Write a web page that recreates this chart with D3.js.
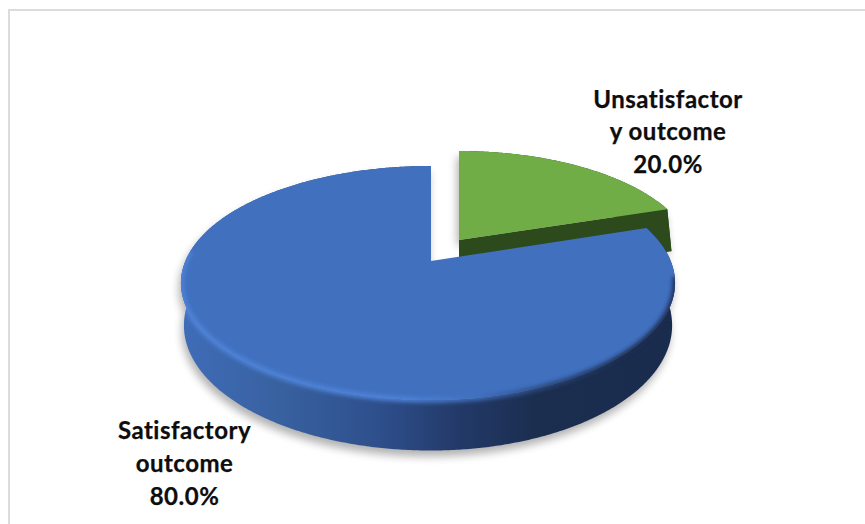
<!DOCTYPE html>
<html>
<head>
<meta charset="utf-8">
<style>
  html, body { margin: 0; padding: 0; background: #fff; }
  svg { display: block; }
  text { font-family: Lato, "Open Sans", sans-serif; font-weight: 700; fill: #0d0d0d; stroke: #0d0d0d; stroke-width: 0.25px; letter-spacing: 0.5px; }
</style>
<script src="https://cdn.jsdelivr.net/npm/d3@7/dist/d3.min.js"></script>
</head>
<body>
<svg id="chart" width="865" height="524"></svg>
<script>
// Outcome shares and their wrapped labels
const categories = ["Satisfactory outcome", "Unsatisfactory outcome"];
const values = [80, 20];
const labelLines = [["Satisfactory", "outcome"], ["Unsatisfactor", "y outcome"]];
const sliceColors = ["#4170bf", "#70ad47"];
const explodeShift = [0, 28];
const explodeV = [0, 0.193];
const wallDrops = [41, 46];
const baseScales = [0.988, 1.02];
const labelX = [184.5, 668];
const labelBaseline = [439.2, 107.5];

const width = 865, height = 524;
const deg = Math.PI / 180;
const svg = d3.select("#chart");
const defs = svg.append("defs");

// Perspective projection of the unit disc lying on the table
const apexX = 431, apexY = 261;
const kPersp = 0.188, depthY = 112.9, spreadLeft = 245.6, spreadRight = 239.7;
function project(u, v, i, lower) {
  const w = 1 + kPersp * v;
  const s = lower ? baseScales[i] : 1;
  const spread = u < 0 ? spreadLeft : spreadRight;
  return [
    apexX + explodeShift[i] + s * spread * u / w,
    apexY - depthY * v / w + (lower ? wallDrops[i] / w : 0)
  ];
}

const pie = d3.pie().sort(null).startAngle(72 * deg).endAngle(432 * deg);
const arcs = pie(values);
const line = d3.line();

function rimPoints(a, i, lower, from, to) {
  const start = from === undefined ? a.startAngle : from;
  const end = to === undefined ? a.endAngle : to;
  const steps = Math.max(2, Math.ceil((end - start) / (0.5 * deg)));
  return d3.range(steps + 1).map(j => {
    const t = start + (end - start) * j / steps;
    return project(Math.sin(t), Math.cos(t) + explodeV[i], i, lower);
  });
}
const apexPoint = (i, lower) => project(0, explodeV[i], i, lower);
const topPath = (a, i) => line([apexPoint(i, false), ...rimPoints(a, i, false)]) + "Z";
const wallPath = (a, i) => line([...rimPoints(a, i, false), ...rimPoints(a, i, true).reverse()]) + "Z";
const cutPath = (angle, i) => {
  const edge = (lower) => project(Math.sin(angle), Math.cos(angle) + explodeV[i], i, lower);
  return line([apexPoint(i, false), edge(false), edge(true), apexPoint(i, true)]) + "Z";
};

// Soft blurs for the ground shadow and the bevel
function blur(id, sd) {
  defs.append("filter").attr("id", id).attr("filterUnits", "userSpaceOnUse")
    .attr("x", 0).attr("y", 0).attr("width", width).attr("height", height)
    .append("feGaussianBlur").attr("stdDeviation", sd);
}
blur("groundBlur", 4);
blur("rimBlur", 2);

function hGradient(id, stops) {
  const g = defs.append("linearGradient").attr("id", id)
    .attr("gradientUnits", "userSpaceOnUse")
    .attr("x1", 184).attr("x2", 672).attr("y1", 0).attr("y2", 0);
  stops.forEach(([o, c]) => g.append("stop").attr("offset", o).attr("stop-color", c));
}
hGradient("wallFill", [[0, "#3f6cb8"], [0.2, "#38619f"], [0.4, "#2e4f8c"], [0.56, "#233a69"], [0.72, "#1b2e50"], [1, "#1a2c4e"]]);
hGradient("rimStroke", [[0, "#4f84da"], [0.45, "#4f84da"], [0.6, "#4170bf"], [0.74, "#2a4677"], [0.9, "#1a2c4e"], [1, "#1a2c4e"]]);

// Chart frame: only its top and left edges fall inside the page
svg.append("rect").attr("x", 9).attr("y", 10).attr("width", 880).attr("height", 540)
  .attr("fill", "#fff").attr("stroke", "#dcdcdc").attr("stroke-width", 2);

// Ground shadow under both slices
const shadow = svg.append("g").attr("filter", "url(#groundBlur)")
  .attr("transform", "translate(-2,6)").attr("fill", "#000").attr("opacity", 0.3);
arcs.forEach((a, i) => {
  shadow.append("path").attr("d", wallPath(a, i));
  shadow.append("path").attr("d", topPath(a, i));
});

// Exploded green slice: cut faces and rim wall, then its top
const green = arcs[1], greenIdx = 1;
svg.append("path").attr("d", cutPath(green.endAngle, greenIdx)).attr("fill", "#2d4a1c");
svg.append("path").attr("d", cutPath(green.startAngle, greenIdx)).attr("fill", "#2d4a1c");
svg.append("path").attr("d", wallPath(green, greenIdx)).attr("fill", "#2d4a1c");
svg.append("path").attr("d", topPath(green, greenIdx)).attr("fill", sliceColors[greenIdx]);

// Large blue slice: wall, bevel along the rim, top face
const blue = arcs[0], blueIdx = 0;
defs.append("clipPath").attr("id", "blueClip")
  .call(c => { c.append("path").attr("d", topPath(blue, blueIdx)); c.append("path").attr("d", wallPath(blue, blueIdx)); });
svg.append("path").attr("d", wallPath(blue, blueIdx)).attr("fill", "url(#wallFill)");
svg.append("path").attr("d", topPath(blue, blueIdx)).attr("fill", sliceColors[blueIdx]);
svg.append("g").attr("clip-path", "url(#blueClip)")
  .append("path")
  .attr("d", line(rimPoints(blue, blueIdx, false, 98 * deg, 275 * deg)))
  .attr("fill", "none").attr("stroke", "url(#rimStroke)").attr("stroke-width", 5)
  .attr("filter", "url(#rimBlur)");

// Data labels: wrapped name lines, then the share
const total = d3.sum(values);
const pct = d3.format(".1%");
const lineGap = 32.7;
const labelGroup = svg.append("g").attr("text-anchor", "middle").attr("font-size", 24);
categories.forEach((name, i) => {
  const rows = [...labelLines[i], pct(values[i] / total)];
  rows.forEach((row, r) => {
    labelGroup.append("text")
      .attr("x", labelX[i])
      .attr("y", labelBaseline[i] + r * lineGap)
      .text(row);
  });
});
</script>
</body>
</html>
